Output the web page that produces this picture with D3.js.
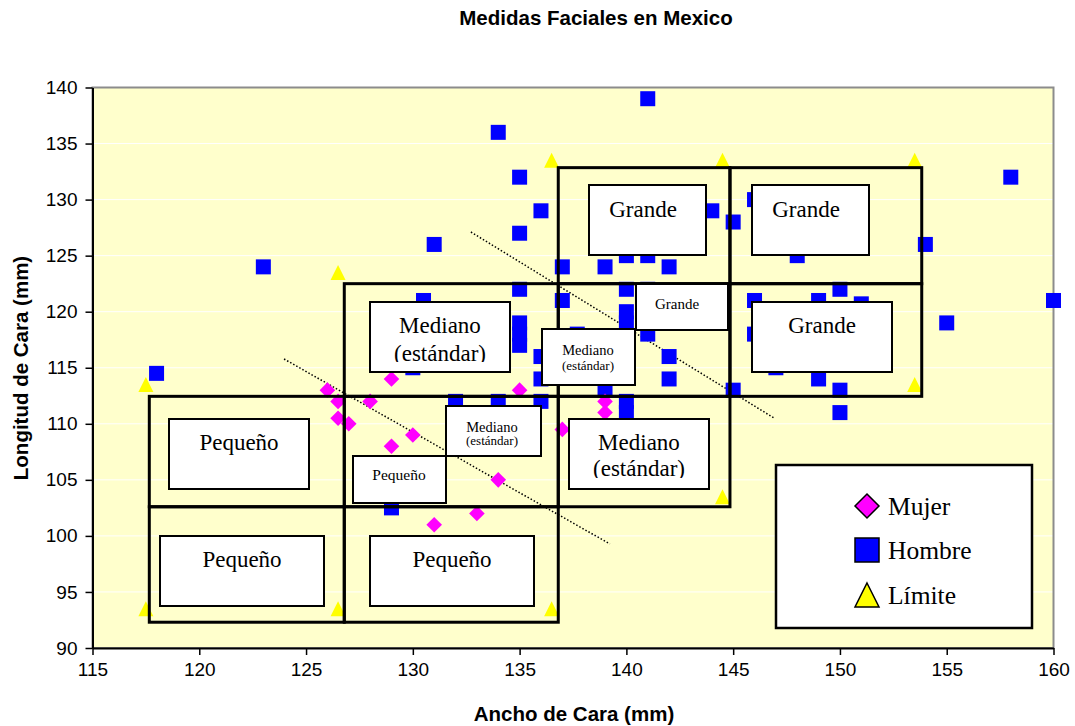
<!DOCTYPE html>
<html><head><meta charset="utf-8">
<script src="https://cdn.jsdelivr.net/npm/d3@7"></script>
<style>body{margin:0;background:#fff;}</style>
</head><body>
<svg id="c" width="1075" height="726"></svg>
<script>
// ---- data ----
const mujerX = [126,126.5,126.5,127,128,129,129,130,131,133,134,135,137,139,139];
const mujerY = [113,112,110.5,110,112,114,108,109,101,102,105,113,109.5,112,111];

const hombreX = [118,123,129,130,130.5,131,132,134,134,135,135,135,135,135,135,136,136,136,136,137,137,137.7,139,139,140,140,140,140,140,140,141,141,141,141,142,142,142,144,145,145,146,146,146,147,148,149,149,150,150,150,151,154,155,158,160];
const hombreY = [114.5,124,102.5,115,121,126,112,136,112,132,127,122,119,118,117,129,116,114,112,124,121,118,124,113,125,122,120,119,112,111,139,125,122,118,124,116,114,129,128,113,130,121,118,115,125,121,114,122,113,111,120.7,126,119,132,121];

const limiteX = [117.5,126.5,136.5,117.5,126.5,136.5,144.5,153.5,144.5,153.5];
const limiteY = [93.5,93.5,93.5,113.5,123.5,133.5,133.5,133.5,103.5,113.5];

const xTicks = [115,120,125,130,135,140,145,150,155,160];
const yTicks = [90,95,100,105,110,115,120,125,130,135,140];

// category region grid (data coordinates)
const regionX0 = [117.66,126.79,117.66,126.79,136.81,126.79,136.81,144.85,136.81,144.85];
const regionX1 = [126.79,136.81,126.79,136.81,144.85,136.81,144.85,153.83,144.85,153.83];
const regionY0 = [92.3,92.3,102.6,102.6,102.6,112.45,112.45,112.45,122.5,122.5];
const regionY1 = [102.6,102.6,112.45,112.45,112.45,122.5,122.5,122.5,132.85,132.85];

// trend (dotted) lines
const trendA = [[132.72,127.11],[146.91,110.52]];
const trendB = [[123.97,115.78],[139.23,99.28]];

// label box texts
const boxLines = [["Grande"],["Grande"],["Grande"],["Grande"],
  ["Mediano","(estándar)"],["Mediano","(estándar)"],["Mediano","(estándar)"],["Mediano","(estándar)"],
  ["Pequeño"],["Pequeño"],["Pequeño"],["Pequeño"]];
const legItems = ["Mujer","Hombre","Límite"];
</script>
<script>
const x = d3.scaleLinear().domain([115,160]).range([92.5,1053.5]);
const y = d3.scaleLinear().domain([90,140]).range([648,87.5]);
const svg = d3.select("#c");

// plot background
svg.append("rect").attr("x",x(115)).attr("y",y(140)).attr("width",x(160)-x(115)).attr("height",y(90)-y(140))
  .attr("fill","#FFFFCC");
// gridlines
svg.append("g").selectAll("line").data(yTicks.filter(t=>t>90&&t<140)).join("line")
  .attr("x1",x(115)).attr("x2",x(160)).attr("y1",d=>y(d)).attr("y2",d=>y(d))
  .attr("stroke","#ffffff").attr("stroke-width",1);
// border
svg.append("rect").attr("x",x(115)).attr("y",y(140)).attr("width",x(160)-x(115)).attr("height",y(90)-y(140))
  .attr("fill","none").attr("stroke","#8c8c8c").attr("stroke-width",2);

// axes
const xAxis = svg.append("g").attr("transform",`translate(0,${y(90)})`)
  .call(d3.axisBottom(x).tickValues(xTicks).tickSize(7).tickSizeOuter(0).tickPadding(8));
const yAxis = svg.append("g").attr("transform",`translate(${x(115)},0)`)
  .call(d3.axisLeft(y).tickValues(yTicks).tickSize(7).tickSizeOuter(0).tickPadding(8));
[xAxis,yAxis].forEach(a=>{
  a.select(".domain").attr("stroke","#000").attr("stroke-width",2);
  a.selectAll(".tick line").attr("stroke","#000").attr("stroke-width",1.5);
  a.selectAll("text").attr("font-family","Liberation Sans, Arial, sans-serif").attr("font-size",19).attr("fill","#000");
});

// dotted trend lines
[trendA,trendB].forEach(t=>{
  svg.append("line").attr("x1",x(t[0][0])).attr("y1",y(t[0][1])).attr("x2",x(t[1][0])).attr("y2",y(t[1][1]))
    .attr("stroke","#000").attr("stroke-width",1.5).attr("stroke-dasharray","1.5,2");
});

// markers
const sq = 15;
svg.append("g").selectAll("rect").data(hombreX.map((v,i)=>[v,hombreY[i]])).join("rect")
  .attr("x",d=>x(d[0])-sq/2).attr("y",d=>y(d[1])-sq/2).attr("width",sq).attr("height",sq).attr("fill","#0000FF");
const dm = 7.8;
svg.append("g").selectAll("path").data(mujerX.map((v,i)=>[v,mujerY[i]])).join("path")
  .attr("d",d=>`M${x(d[0])},${y(d[1])-dm}L${x(d[0])+dm},${y(d[1])}L${x(d[0])},${y(d[1])+dm}L${x(d[0])-dm},${y(d[1])}Z`)
  .attr("fill","#FF00FF");
const tr = 7.5;
svg.append("g").selectAll("path").data(limiteX.map((v,i)=>[v,limiteY[i]])).join("path")
  .attr("d",d=>`M${x(d[0])},${y(d[1])-tr}L${x(d[0])+tr},${y(d[1])+tr}L${x(d[0])-tr},${y(d[1])+tr}Z`)
  .attr("fill","#FFFF00");

// region grid rectangles
svg.append("g").selectAll("rect").data(regionX0.map((v,i)=>i)).join("rect")
  .attr("x",i=>x(regionX0[i])).attr("y",i=>y(regionY1[i]))
  .attr("width",i=>x(regionX1[i])-x(regionX0[i])).attr("height",i=>y(regionY0[i])-y(regionY1[i]))
  .attr("fill","none").attr("stroke","#000").attr("stroke-width",3);

// label boxes (pixel layout)
const boxes = [
  {l:0,x0:589,y0:185,x1:706,y1:255,fs:[23],bl:[217],cx:643},
  {l:1,x0:752,y0:185,x1:869,y1:255,fs:[23],bl:[217],cx:806},
  {l:2,x0:636,y0:284,x1:728,y1:330,fs:[15],bl:[309],cx:677},
  {l:3,x0:752,y0:302,x1:892,y1:372,fs:[23],bl:[333],cx:822},
  {l:4,x0:370,y0:302,x1:510,y1:372,fs:[23,23],bl:[333,361],cx:440,clip:362},
  {l:5,x0:542,y0:329,x1:635,y1:385,fs:[14.5,13],bl:[355,370],cx:588,clip:373},
  {l:6,x0:446,y0:406,x1:541,y1:456,fs:[14.5,13],bl:[432,445],cx:492,clip:448},
  {l:7,x0:569,y0:419,x1:709,y1:489,fs:[23,23],bl:[450,476],cx:639,clip:478},
  {l:8,x0:353,y0:456,x1:446,y1:503,fs:[15.5],bl:[480],cx:399},
  {l:9,x0:169,y0:419,x1:309,y1:489,fs:[23],bl:[450],cx:239},
  {l:10,x0:160,y0:536,x1:324,y1:606,fs:[23],bl:[567],cx:242},
  {l:11,x0:370,y0:536,x1:534,y1:606,fs:[23],bl:[567],cx:452}
];
const defs = svg.append("defs");
boxes.forEach((b,i)=>{
  const g = svg.append("g");
  g.append("rect").attr("x",b.x0).attr("y",b.y0).attr("width",b.x1-b.x0).attr("height",b.y1-b.y0)
    .attr("fill","#fff").attr("stroke","#000").attr("stroke-width",2);
  let tg = g.append("g");
  if(b.clip){
    defs.append("clipPath").attr("id","cp"+i).append("rect")
      .attr("x",b.x0).attr("y",b.y0).attr("width",b.x1-b.x0).attr("height",b.clip-b.y0);
    tg.attr("clip-path",`url(#cp${i})`);
  }
  boxLines[b.l].forEach((t,j)=>{
    tg.append("text").attr("x",b.cx).attr("y",b.bl[j]).attr("text-anchor","middle")
      .attr("font-family","Liberation Serif, 'Times New Roman', serif").attr("font-size",b.fs[j]).attr("fill","#000").text(t);
  });
});

// legend
const lg = svg.append("g");
lg.append("rect").attr("x",776).attr("y",465).attr("width",256).attr("height",163)
  .attr("fill","#fff").attr("stroke","#000").attr("stroke-width",2.5);
const ly = [506,550,595];
const lm = 12;
lg.append("path").attr("d",`M867,${ly[0]-lm}L${867+lm},${ly[0]}L867,${ly[0]+lm}L${867-lm},${ly[0]}Z`)
  .attr("fill","#FF00FF").attr("stroke","#000").attr("stroke-width",1.5);
lg.append("rect").attr("x",867-lm).attr("y",ly[1]-lm).attr("width",2*lm).attr("height",2*lm)
  .attr("fill","#0000FF").attr("stroke","#000").attr("stroke-width",1.5);
lg.append("path").attr("d",`M867,${ly[2]-lm}L${867+lm},${ly[2]+lm}L${867-lm},${ly[2]+lm}Z`)
  .attr("fill","#FFFF00").attr("stroke","#000").attr("stroke-width",1.5);
legItems.forEach((t,i)=>{
  lg.append("text").attr("x",888).attr("y",ly[i]+9).attr("font-family","Liberation Serif, 'Times New Roman', serif")
    .attr("font-size",25.5).attr("fill","#000").text(t);
});

// titles
svg.append("text").attr("x",596).attr("y",25).attr("text-anchor","middle")
  .attr("font-family","Liberation Sans, Arial, sans-serif").attr("font-weight","bold").attr("font-size",20.5)
  .text("Medidas Faciales en Mexico");
svg.append("text").attr("x",574).attr("y",721).attr("text-anchor","middle")
  .attr("font-family","Liberation Sans, Arial, sans-serif").attr("font-weight","bold").attr("font-size",20.5)
  .text("Ancho de Cara (mm)");
svg.append("text").attr("transform","translate(28,368) rotate(-90)").attr("text-anchor","middle")
  .attr("font-family","Liberation Sans, Arial, sans-serif").attr("font-weight","bold").attr("font-size",20.5)
  .text("Longitud de Cara (mm)");
</script>
</body></html>
